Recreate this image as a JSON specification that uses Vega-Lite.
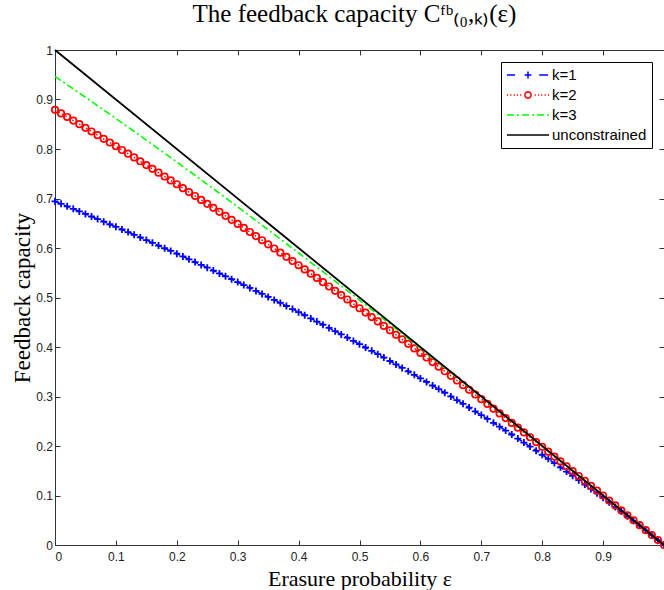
{
  "$schema": "https://vega.github.io/schema/vega-lite/v6.json",
  "width": 609,
  "height": 495,
  "autosize": {"type": "none"},
  "padding": {"left": 55, "top": 50, "right": 0, "bottom": 45},
  "background": "white",
  "title": {"text": "The feedback capacity Cᶠᵇ₍₀,ₖ₎(ε)", "font": "Liberation Serif", "fontSize": 25, "fontWeight": "normal", "color": "#000000", "anchor": "middle", "offset": 17, "dx": -5},
  "config": {
    "view": {"stroke": null},
    "axis": {"grid": false, "domainColor": "#333333", "tickColor": "#333333", "tickSize": -5, "tickWidth": 1, "domainWidth": 1, "labelFont": "Liberation Sans", "labelFontSize": 12, "labelColor": "#222222", "titleFont": "Liberation Serif", "titleFontSize": 22, "titleFontWeight": "normal", "titleColor": "#000000"}
  },
  "datasets": {
    "k1": [
      {"e":0,"c":0.6942,"s":"k=1"},{"e":0.01,"c":0.6892,"s":"k=1"},{"e":0.02,"c":0.6841,"s":"k=1"},{"e":0.03,"c":0.6791,"s":"k=1"},{"e":0.04,"c":0.6739,"s":"k=1"},
      {"e":0.05,"c":0.6688,"s":"k=1"},{"e":0.06,"c":0.6636,"s":"k=1"},{"e":0.07,"c":0.6585,"s":"k=1"},{"e":0.08,"c":0.6532,"s":"k=1"},{"e":0.09,"c":0.6480,"s":"k=1"},
      {"e":0.10,"c":0.6427,"s":"k=1"},{"e":0.11,"c":0.6374,"s":"k=1"},{"e":0.12,"c":0.6321,"s":"k=1"},{"e":0.13,"c":0.6267,"s":"k=1"},{"e":0.14,"c":0.6214,"s":"k=1"},
      {"e":0.15,"c":0.6160,"s":"k=1"},{"e":0.16,"c":0.6105,"s":"k=1"},{"e":0.17,"c":0.6050,"s":"k=1"},{"e":0.18,"c":0.5995,"s":"k=1"},{"e":0.19,"c":0.5940,"s":"k=1"},
      {"e":0.20,"c":0.5885,"s":"k=1"},{"e":0.21,"c":0.5829,"s":"k=1"},{"e":0.22,"c":0.5772,"s":"k=1"},{"e":0.23,"c":0.5716,"s":"k=1"},{"e":0.24,"c":0.5659,"s":"k=1"},
      {"e":0.25,"c":0.5602,"s":"k=1"},{"e":0.26,"c":0.5544,"s":"k=1"},{"e":0.27,"c":0.5487,"s":"k=1"},{"e":0.28,"c":0.5428,"s":"k=1"},{"e":0.29,"c":0.5370,"s":"k=1"},
      {"e":0.30,"c":0.5311,"s":"k=1"},{"e":0.31,"c":0.5252,"s":"k=1"},{"e":0.32,"c":0.5193,"s":"k=1"},{"e":0.33,"c":0.5133,"s":"k=1"},{"e":0.34,"c":0.5072,"s":"k=1"},
      {"e":0.35,"c":0.5012,"s":"k=1"},{"e":0.36,"c":0.4951,"s":"k=1"},{"e":0.37,"c":0.4890,"s":"k=1"},{"e":0.38,"c":0.4828,"s":"k=1"},{"e":0.39,"c":0.4766,"s":"k=1"},
      {"e":0.40,"c":0.4703,"s":"k=1"},{"e":0.41,"c":0.4641,"s":"k=1"},{"e":0.42,"c":0.4577,"s":"k=1"},{"e":0.43,"c":0.4514,"s":"k=1"},{"e":0.44,"c":0.4450,"s":"k=1"},
      {"e":0.45,"c":0.4385,"s":"k=1"},{"e":0.46,"c":0.4320,"s":"k=1"},{"e":0.47,"c":0.4255,"s":"k=1"},{"e":0.48,"c":0.4190,"s":"k=1"},{"e":0.49,"c":0.4123,"s":"k=1"},
      {"e":0.50,"c":0.4057,"s":"k=1"},{"e":0.51,"c":0.3990,"s":"k=1"},{"e":0.52,"c":0.3922,"s":"k=1"},{"e":0.53,"c":0.3855,"s":"k=1"},{"e":0.54,"c":0.3786,"s":"k=1"},
      {"e":0.55,"c":0.3717,"s":"k=1"},{"e":0.56,"c":0.3648,"s":"k=1"},{"e":0.57,"c":0.3578,"s":"k=1"},{"e":0.58,"c":0.3508,"s":"k=1"},{"e":0.59,"c":0.3437,"s":"k=1"},
      {"e":0.60,"c":0.3366,"s":"k=1"},{"e":0.61,"c":0.3294,"s":"k=1"},{"e":0.62,"c":0.3222,"s":"k=1"},{"e":0.63,"c":0.3149,"s":"k=1"},{"e":0.64,"c":0.3076,"s":"k=1"},
      {"e":0.65,"c":0.3002,"s":"k=1"},{"e":0.66,"c":0.2927,"s":"k=1"},{"e":0.67,"c":0.2853,"s":"k=1"},{"e":0.68,"c":0.2777,"s":"k=1"},{"e":0.69,"c":0.2701,"s":"k=1"},
      {"e":0.70,"c":0.2624,"s":"k=1"},{"e":0.71,"c":0.2547,"s":"k=1"},{"e":0.72,"c":0.2469,"s":"k=1"},{"e":0.73,"c":0.2391,"s":"k=1"},{"e":0.74,"c":0.2312,"s":"k=1"},
      {"e":0.75,"c":0.2232,"s":"k=1"},{"e":0.76,"c":0.2151,"s":"k=1"},{"e":0.77,"c":0.2070,"s":"k=1"},{"e":0.78,"c":0.1989,"s":"k=1"},{"e":0.79,"c":0.1906,"s":"k=1"},
      {"e":0.80,"c":0.1823,"s":"k=1"},{"e":0.81,"c":0.1740,"s":"k=1"},{"e":0.82,"c":0.1655,"s":"k=1"},{"e":0.83,"c":0.1570,"s":"k=1"},{"e":0.84,"c":0.1484,"s":"k=1"},
      {"e":0.85,"c":0.1398,"s":"k=1"},{"e":0.86,"c":0.1310,"s":"k=1"},{"e":0.87,"c":0.1222,"s":"k=1"},{"e":0.88,"c":0.1133,"s":"k=1"},{"e":0.89,"c":0.1044,"s":"k=1"},
      {"e":0.90,"c":0.0953,"s":"k=1"},{"e":0.91,"c":0.0862,"s":"k=1"},{"e":0.92,"c":0.0770,"s":"k=1"},{"e":0.93,"c":0.0677,"s":"k=1"},{"e":0.94,"c":0.0583,"s":"k=1"},
      {"e":0.95,"c":0.0488,"s":"k=1"},{"e":0.96,"c":0.0392,"s":"k=1"},{"e":0.97,"c":0.0296,"s":"k=1"},{"e":0.98,"c":0.0198,"s":"k=1"},{"e":0.99,"c":0.0099,"s":"k=1"},
      {"e":1,"c":0,"s":"k=1"}
    ],
    "k2": [
      {"e":0,"c":0.8791,"s":"k=2"},{"e":0.01,"c":0.8719,"s":"k=2"},{"e":0.02,"c":0.8647,"s":"k=2"},{"e":0.03,"c":0.8574,"s":"k=2"},{"e":0.04,"c":0.8501,"s":"k=2"},
      {"e":0.05,"c":0.8427,"s":"k=2"},{"e":0.06,"c":0.8354,"s":"k=2"},{"e":0.07,"c":0.8280,"s":"k=2"},{"e":0.08,"c":0.8205,"s":"k=2"},{"e":0.09,"c":0.8131,"s":"k=2"},
      {"e":0.10,"c":0.8056,"s":"k=2"},{"e":0.11,"c":0.7980,"s":"k=2"},{"e":0.12,"c":0.7905,"s":"k=2"},{"e":0.13,"c":0.7829,"s":"k=2"},{"e":0.14,"c":0.7752,"s":"k=2"},
      {"e":0.15,"c":0.7676,"s":"k=2"},{"e":0.16,"c":0.7599,"s":"k=2"},{"e":0.17,"c":0.7522,"s":"k=2"},{"e":0.18,"c":0.7444,"s":"k=2"},{"e":0.19,"c":0.7366,"s":"k=2"},
      {"e":0.20,"c":0.7288,"s":"k=2"},{"e":0.21,"c":0.7209,"s":"k=2"},{"e":0.22,"c":0.7130,"s":"k=2"},{"e":0.23,"c":0.7051,"s":"k=2"},{"e":0.24,"c":0.6972,"s":"k=2"},
      {"e":0.25,"c":0.6892,"s":"k=2"},{"e":0.26,"c":0.6811,"s":"k=2"},{"e":0.27,"c":0.6731,"s":"k=2"},{"e":0.28,"c":0.6650,"s":"k=2"},{"e":0.29,"c":0.6569,"s":"k=2"},
      {"e":0.30,"c":0.6487,"s":"k=2"},{"e":0.31,"c":0.6405,"s":"k=2"},{"e":0.32,"c":0.6323,"s":"k=2"},{"e":0.33,"c":0.6240,"s":"k=2"},{"e":0.34,"c":0.6157,"s":"k=2"},
      {"e":0.35,"c":0.6074,"s":"k=2"},{"e":0.36,"c":0.5990,"s":"k=2"},{"e":0.37,"c":0.5906,"s":"k=2"},{"e":0.38,"c":0.5822,"s":"k=2"},{"e":0.39,"c":0.5737,"s":"k=2"},
      {"e":0.40,"c":0.5652,"s":"k=2"},{"e":0.41,"c":0.5567,"s":"k=2"},{"e":0.42,"c":0.5481,"s":"k=2"},{"e":0.43,"c":0.5395,"s":"k=2"},{"e":0.44,"c":0.5309,"s":"k=2"},
      {"e":0.45,"c":0.5222,"s":"k=2"},{"e":0.46,"c":0.5135,"s":"k=2"},{"e":0.47,"c":0.5048,"s":"k=2"},{"e":0.48,"c":0.4960,"s":"k=2"},{"e":0.49,"c":0.4872,"s":"k=2"},
      {"e":0.50,"c":0.4783,"s":"k=2"},{"e":0.51,"c":0.4695,"s":"k=2"},{"e":0.52,"c":0.4605,"s":"k=2"},{"e":0.53,"c":0.4516,"s":"k=2"},{"e":0.54,"c":0.4426,"s":"k=2"},
      {"e":0.55,"c":0.4336,"s":"k=2"},{"e":0.56,"c":0.4246,"s":"k=2"},{"e":0.57,"c":0.4155,"s":"k=2"},{"e":0.58,"c":0.4064,"s":"k=2"},{"e":0.59,"c":0.3972,"s":"k=2"},
      {"e":0.60,"c":0.3880,"s":"k=2"},{"e":0.61,"c":0.3788,"s":"k=2"},{"e":0.62,"c":0.3696,"s":"k=2"},{"e":0.63,"c":0.3603,"s":"k=2"},{"e":0.64,"c":0.3510,"s":"k=2"},
      {"e":0.65,"c":0.3417,"s":"k=2"},{"e":0.66,"c":0.3323,"s":"k=2"},{"e":0.67,"c":0.3229,"s":"k=2"},{"e":0.68,"c":0.3135,"s":"k=2"},{"e":0.69,"c":0.3040,"s":"k=2"},
      {"e":0.70,"c":0.2946,"s":"k=2"},{"e":0.71,"c":0.2850,"s":"k=2"},{"e":0.72,"c":0.2755,"s":"k=2"},{"e":0.73,"c":0.2659,"s":"k=2"},{"e":0.74,"c":0.2564,"s":"k=2"},
      {"e":0.75,"c":0.2467,"s":"k=2"},{"e":0.76,"c":0.2371,"s":"k=2"},{"e":0.77,"c":0.2274,"s":"k=2"},{"e":0.78,"c":0.2177,"s":"k=2"},{"e":0.79,"c":0.2080,"s":"k=2"},
      {"e":0.80,"c":0.1983,"s":"k=2"},{"e":0.81,"c":0.1885,"s":"k=2"},{"e":0.82,"c":0.1787,"s":"k=2"},{"e":0.83,"c":0.1689,"s":"k=2"},{"e":0.84,"c":0.1591,"s":"k=2"},
      {"e":0.85,"c":0.1492,"s":"k=2"},{"e":0.86,"c":0.1394,"s":"k=2"},{"e":0.87,"c":0.1295,"s":"k=2"},{"e":0.88,"c":0.1196,"s":"k=2"},{"e":0.89,"c":0.1097,"s":"k=2"},
      {"e":0.90,"c":0.0998,"s":"k=2"},{"e":0.91,"c":0.0898,"s":"k=2"},{"e":0.92,"c":0.0799,"s":"k=2"},{"e":0.93,"c":0.0699,"s":"k=2"},{"e":0.94,"c":0.0600,"s":"k=2"},
      {"e":0.95,"c":0.0500,"s":"k=2"},{"e":0.96,"c":0.0400,"s":"k=2"},{"e":0.97,"c":0.0300,"s":"k=2"},{"e":0.98,"c":0.0200,"s":"k=2"},{"e":0.99,"c":0.0100,"s":"k=2"},
      {"e":1,"c":0,"s":"k=2"}
    ],
    "k3": [
      {"e":0,"c":0.9468,"s":"k=3"},{"e":0.05,"c":0.9046,"s":"k=3"},{"e":0.10,"c":0.8616,"s":"k=3"},{"e":0.15,"c":0.8180,"s":"k=3"},
      {"e":0.20,"c":0.7737,"s":"k=3"},{"e":0.25,"c":0.7287,"s":"k=3"},{"e":0.30,"c":0.6831,"s":"k=3"},{"e":0.35,"c":0.6368,"s":"k=3"},
      {"e":0.40,"c":0.5900,"s":"k=3"},{"e":0.45,"c":0.5426,"s":"k=3"},{"e":0.50,"c":0.4947,"s":"k=3"},{"e":0.55,"c":0.4464,"s":"k=3"},
      {"e":0.60,"c":0.3976,"s":"k=3"},{"e":0.65,"c":0.3486,"s":"k=3"},{"e":0.70,"c":0.2992,"s":"k=3"},{"e":0.75,"c":0.2496,"s":"k=3"},
      {"e":0.80,"c":0.1998,"s":"k=3"},{"e":0.85,"c":0.1499,"s":"k=3"},{"e":0.90,"c":0.1000,"s":"k=3"},{"e":0.95,"c":0.0500,"s":"k=3"},
      {"e":1,"c":0,"s":"k=3"}
    ],
    "unc": [
      {"e":0,"c":1,"s":"unconstrained"},{"e":1,"c":0,"s":"unconstrained"}
    ]
  },
  "layer": [
    {
      "data": {"name": "k1"},
      "mark": {"type": "line", "color": "#0000ff", "strokeDash": [6, 4], "strokeWidth": 1.5},
      "encoding": {
        "x": {"field": "e", "type": "quantitative", "scale": {"domain": [0, 1], "nice": false, "zero": false},
              "axis": {"orient": "bottom", "values": [0, 0.1, 0.2, 0.3, 0.4, 0.5, 0.6, 0.7, 0.8, 0.9], "format": "~g", "labelPadding": 11.5, "title": "Erasure probability ε", "titleBaseline": "alphabetic", "titleY": 40.5}},
        "y": {"field": "c", "type": "quantitative", "scale": {"domain": [0, 1], "nice": false, "zero": false},
              "axis": {"orient": "left", "values": [0, 0.1, 0.2, 0.3, 0.4, 0.5, 0.6, 0.7, 0.8, 0.9, 1], "format": "~g", "labelPadding": 7.5, "title": "Feedback capacity", "titleFontSize": 23, "titleBaseline": "alphabetic", "titleAngle": 270, "titleX": -26}}
      }
    },
    {
      "data": {"name": "k1"},
      "mark": {"type": "point", "shape": "M-1,0L1,0M0,-1L0,1", "size": 49, "filled": false, "color": "#0000ff", "strokeWidth": 1.8, "opacity": 1},
      "encoding": {
        "x": {"field": "e", "type": "quantitative", "scale": {"domain": [0, 1], "nice": false, "zero": false}, "axis": null},
        "y": {"field": "c", "type": "quantitative", "scale": {"domain": [0, 1], "nice": false, "zero": false}, "axis": null}
      }
    },
    {
      "data": {"name": "k2"},
      "mark": {"type": "line", "color": "#ff0000", "strokeDash": [1.5, 2.5], "strokeWidth": 1.5},
      "encoding": {
        "x": {"field": "e", "type": "quantitative", "scale": {"domain": [0, 1], "nice": false, "zero": false}, "axis": null},
        "y": {"field": "c", "type": "quantitative", "scale": {"domain": [0, 1], "nice": false, "zero": false}, "axis": null}
      }
    },
    {
      "data": {"name": "k2"},
      "mark": {"type": "point", "shape": "circle", "size": 42, "filled": false, "color": "#ff0000", "strokeWidth": 1.7, "opacity": 1},
      "encoding": {
        "x": {"field": "e", "type": "quantitative", "scale": {"domain": [0, 1], "nice": false, "zero": false}, "axis": null},
        "y": {"field": "c", "type": "quantitative", "scale": {"domain": [0, 1], "nice": false, "zero": false}, "axis": null}
      }
    },
    {
      "data": {"name": "k3"},
      "mark": {"type": "line", "color": "#00ff00", "strokeDash": [7, 3, 2, 3], "strokeWidth": 1.6},
      "encoding": {
        "x": {"field": "e", "type": "quantitative", "scale": {"domain": [0, 1], "nice": false, "zero": false}, "axis": null},
        "y": {"field": "c", "type": "quantitative", "scale": {"domain": [0, 1], "nice": false, "zero": false}, "axis": null}
      }
    },
    {
      "data": {"name": "unc"},
      "mark": {"type": "line", "color": "#000000", "strokeWidth": 1.8},
      "encoding": {
        "x": {"field": "e", "type": "quantitative", "scale": {"domain": [0, 1], "nice": false, "zero": false},
              "axis": {"orient": "top", "values": [0, 0.1, 0.2, 0.3, 0.4, 0.5, 0.6, 0.7, 0.8, 0.9], "labels": false, "title": null}},
        "y": {"field": "c", "type": "quantitative", "scale": {"domain": [0, 1], "nice": false, "zero": false},
              "axis": {"orient": "right", "values": [0, 0.1, 0.2, 0.3, 0.4, 0.5, 0.6, 0.7, 0.8, 0.9, 1], "labels": false, "domain": false, "title": null}}
      }
    },
    {
      "data": {"name": "unc"},
      "transform": [{"filter": "false"}],
      "mark": {"type": "point", "filled": false, "opacity": 1},
      "encoding": {
        "x": {"field": "e", "type": "quantitative", "scale": {"domain": [0, 1], "nice": false, "zero": false}, "axis": null},
        "y": {"field": "c", "type": "quantitative", "scale": {"domain": [0, 1], "nice": false, "zero": false}, "axis": null},
        "color": {"field": "s", "type": "nominal",
                  "scale": {"domain": ["k=1", "k=2", "k=3", "unconstrained"], "range": ["#0000ff", "#ff0000", "#00ff00", "#000000"]},
                  "legend": {"title": null, "orient": "top-right", "offset": 12, "padding": 5, "strokeColor": "#000000", "fillColor": "#ffffff", "labelFont": "Liberation Sans", "labelFontSize": 15, "labelColor": "#000000", "symbolSize": 196, "symbolStrokeWidth": 1.5, "labelOffset": 30, "rowPadding": 4, "labelLimit": 0, "symbolOpacity": 1}},
        "shape": {"field": "s", "type": "nominal",
                  "scale": {"domain": ["k=1", "k=2", "k=3", "unconstrained"],
                            "range": [
                              "M-1,0L0.15,0M1.5,0L2.5,0M2,-0.5L2,0.5M3.6,0L4.85,0",
                              "M-1,0L-0.83,0M-0.53,0L-0.36,0M-0.06,0L0.11,0M0.41,0L0.58,0M0.88,0L1.05,0M2.45,0L2.39,0.225L2.225,0.39L2,0.45L1.775,0.39L1.61,0.225L1.55,0L1.61,-0.225L1.775,-0.39L2,-0.45L2.225,-0.39L2.39,-0.225ZM2.95,0L3.12,0M3.42,0L3.59,0M3.89,0L4.06,0M4.36,0L4.53,0M4.83,0L5,0",
                              "M-1,0L0,0M0.43,0L0.71,0M1.14,0L2.14,0M2.57,0L2.86,0M3.29,0L4.29,0M4.71,0L5,0",
                              "M-1,0L5,0"
                            ]},
                  "legend": {"title": null, "orient": "top-right", "offset": 12, "padding": 5, "strokeColor": "#000000", "fillColor": "#ffffff", "labelFont": "Liberation Sans", "labelFontSize": 15, "labelColor": "#000000", "symbolSize": 196, "symbolStrokeWidth": 1.5, "labelOffset": 30, "rowPadding": 4, "labelLimit": 0, "symbolOpacity": 1}}
      }
    }
  ],
  "resolve": {"axis": {"x": "independent", "y": "independent"}}
}
